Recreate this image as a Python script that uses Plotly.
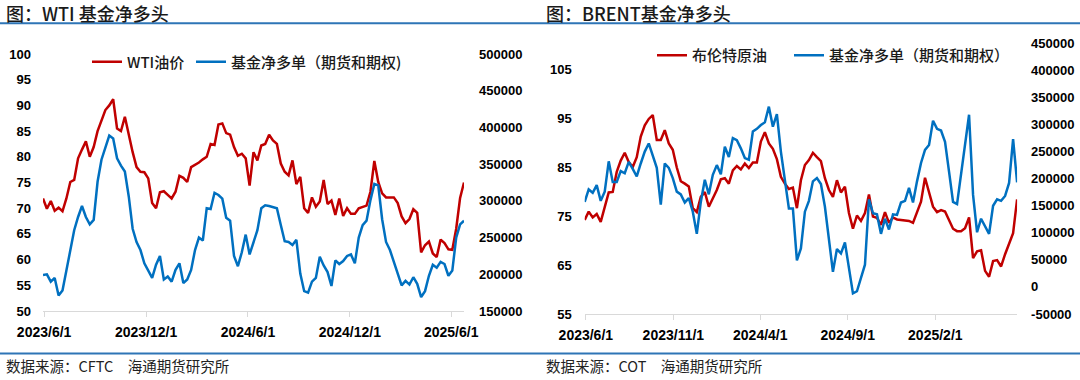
import pandas as pd
import plotly.graph_objects as go

# ---------------- data (weekly, from 2023-05-30) ----------------
start_date = "2023-05-30"

wti_price = [71.9, 69.9, 71.4, 69.5, 70.1, 69.4, 71.9, 75.1, 75.5, 79.7,
             81.4, 83.0, 80.0, 81.9, 85.0, 87.1, 89.1, 90.0, 91.2, 85.5,
             85.0, 87.8, 84.1, 80.9, 78.0, 77.1, 77.0, 75.8, 71.0, 70.0,
             73.1, 73.3, 72.6, 71.9, 73.2, 76.3, 75.9, 75.1, 78.0, 78.4,
             78.9, 79.5, 80.0, 82.5, 82.3, 86.3, 86.5, 84.6, 84.3, 81.9,
             80.2, 80.6, 79.7, 74.4, 80.9, 79.3, 82.2, 82.5, 84.3, 83.2,
             82.5, 78.7, 77.1, 76.4, 79.3, 74.7, 76.1, 70.0, 69.1, 72.1,
             70.3, 71.3, 75.5, 70.8, 71.5, 68.7, 71.9, 68.5, 70.0, 68.9,
             68.9, 70.0, 70.3, 70.5, 73.2, 79.2, 75.1, 72.9, 72.1, 72.1,
             72.1, 71.0, 68.4, 67.1, 67.9, 69.8, 69.1, 61.4, 62.8, 63.5,
             61.2, 60.5, 63.9, 63.2, 62.0, 61.9, 66.0, 72.0, 75.0]

wti_netlong = [199, 200, 190, 195, 171, 178, 205, 235, 260, 278,
               293, 278, 268, 274, 326, 356, 371, 389, 385, 358,
               348, 340, 306, 262, 244, 233, 215, 206, 195, 213,
               225, 193, 197, 190, 206, 215, 188, 193, 206, 233,
               250, 246, 290, 289, 311, 308, 303, 277, 273, 225,
               211, 230, 254, 227, 245, 260, 290, 294, 293, 292,
               290, 267, 245, 244, 240, 247, 201, 177, 175, 190,
               195, 224, 212, 203, 184, 219, 214, 218, 225, 227,
               215, 250, 267, 273, 301, 323, 321, 275, 244, 233,
               218, 200, 185, 191, 186, 196, 187, 169, 177, 198,
               213, 209, 217, 214, 198, 205, 250, 268, 273]  # thousand contracts

brent_price = [74.2, 75.9, 74.7, 75.4, 73.8, 76.9, 79.8, 79.9, 84.0, 86.3,
               87.9, 86.0, 85.0, 87.0, 91.2, 93.5, 94.8, 95.6, 90.5, 90.5,
               92.5, 89.8, 88.5, 84.9, 82.1, 81.6, 81.0, 76.6, 75.8, 78.9,
               79.9, 76.9, 78.6, 80.3, 82.5, 82.7, 81.6, 84.3, 85.2, 84.5,
               85.7, 84.8, 85.9, 85.9, 90.2, 92.1, 89.8, 88.7, 86.6, 83.0,
               81.6, 80.5, 80.8, 76.6, 82.3, 85.4, 86.4, 87.9, 87.0, 86.2,
               82.7, 80.3, 78.9, 82.3, 79.8, 81.0, 75.6, 72.4, 75.1, 74.0,
               75.6, 79.4, 74.9, 74.6, 73.2, 75.8, 73.6, 74.7, 74.3, 74.2,
               74.1, 74.0, 73.6, 75.6, 77.9, 82.8, 79.6, 76.9, 75.8, 76.2,
               75.9, 74.0, 72.4, 71.9, 71.9, 72.5, 74.7, 66.4, 67.8, 68.0,
               63.8, 62.6, 65.8, 66.0, 64.7, 67.2, 69.5, 71.5, 78.4]

brent_netlong = [157, 180, 174, 188, 159, 176, 232, 194, 194, 214,
                 210, 231, 218, 204, 228, 250, 265, 244, 220, 152,
                 228, 220, 201, 176, 171, 156, 164, 139, 98, 157,
                 198, 171, 207, 225, 208, 259, 240, 275, 271, 256,
                 238, 235, 287, 292, 299, 304, 333, 296, 319, 250,
                 196, 145, 145, 49, 71, 139, 159, 195, 201, 190,
                 148, 86, 28, 70, 62, 82, 35, -12, -8, 19,
                 41, 162, 136, 134, 98, 126, 106, 134, 133, 156,
                 159, 183, 156, 195, 229, 253, 262, 307, 292, 289,
                 268, 213, 157, 153, 207, 262, 318, 170, 101, 126,
                 112, 98, 150, 162, 159, 168, 192, 273, 193]  # thousand contracts

wti_xticks = ["2023-06-01", "2023-12-01", "2024-06-01", "2024-12-01", "2025-06-01"]
wti_xlabels = ["2023/6/1", "2023/12/1", "2024/6/1", "2024/12/1", "2025/6/1"]
brent_xticks = ["2023-06-01", "2023-11-01", "2024-04-01", "2024-09-01", "2025-02-01"]
brent_xlabels = ["2023/6/1", "2023/11/1", "2024/4/1", "2024/9/1", "2025/2/1"]

wti_left_ticks = [50, 55, 60, 65, 70, 75, 80, 85, 90, 95, 100]
wti_right_ticks = [150000, 200000, 250000, 300000, 350000, 400000, 450000, 500000]
brent_left_ticks = [55, 65, 75, 85, 95, 105]
brent_right_ticks = [-50000, 0, 50000, 100000, 150000, 200000, 250000,
                     300000, 350000, 400000, 450000]

# ---------------- figure ----------------
weeks = pd.date_range(start_date, periods=len(wti_price), freq="7D")
RED = "#C00000"
BLUE = "#0070C0"
W, H = 1080, 380


def px_x(p):
    return p / W


def px_y(p):
    return 1 - p / H


fig = go.Figure()
fig.add_trace(go.Scatter(x=weeks, y=wti_price, name="WTI油价", mode="lines",
                         line=dict(color=RED, width=2.5), xaxis="x", yaxis="y",
                         legend="legend"))
fig.add_trace(go.Scatter(x=weeks, y=[v * 1000 for v in wti_netlong],
                         name="基金净多单（期货和期权)", mode="lines",
                         line=dict(color=BLUE, width=2.5), xaxis="x", yaxis="y2",
                         legend="legend3"))
fig.add_trace(go.Scatter(x=weeks, y=brent_price, name="布伦特原油", mode="lines",
                         line=dict(color=RED, width=2.5), xaxis="x2", yaxis="y3",
                         legend="legend2"))
fig.add_trace(go.Scatter(x=weeks, y=[v * 1000 for v in brent_netlong],
                         name="基金净多单（期货和期权）", mode="lines",
                         line=dict(color=BLUE, width=2.5), xaxis="x2", yaxis="y4",
                         legend="legend4"))

ytickfont = dict(family="Liberation Sans, Arial, sans-serif", size=13,
                 color="#000000", weight="bold")
xtickfont = dict(family="Liberation Sans, Arial, sans-serif", size=14,
                 color="#000000", weight="bold")
x_end = weeks[-1]
x_start = weeks[0]

xcommon = dict(type="date", range=[x_start, x_end], showgrid=False, zeroline=False,
               showline=True, linecolor="#D9D9D9", linewidth=1,
               ticks="outside", ticklen=5, tickcolor="#D9D9D9", tickwidth=1,
               tickfont=xtickfont, ticklabelstandoff=3, automargin=False)
ycommon = dict(showgrid=False, zeroline=False, showline=False, ticks="",
               tickfont=ytickfont, automargin=False, tickmode="array")

wti_dom_y = [px_y(311), px_y(54)]
brent_dom_y = [px_y(314), px_y(43.3)]

legend_font = dict(family="Noto Sans CJK SC, sans-serif", size=15,
                   color="#1a1a1a", weight=500)


def legend_at(xpx, ypx):
    return dict(orientation="h", x=px_x(xpx), y=px_y(ypx), xanchor="left",
                yanchor="middle", bgcolor="rgba(0,0,0,0)", borderwidth=0,
                font=legend_font)


fig.update_layout(
    width=W, height=H,
    margin=dict(l=0, r=0, t=0, b=0, autoexpand=False),
    paper_bgcolor="white", plot_bgcolor="white",
    font=dict(family="Noto Sans CJK SC, sans-serif", color="#000000"),
    xaxis=dict(domain=[px_x(43), px_x(464)], anchor="y",
               tickvals=wti_xticks, ticktext=wti_xlabels, **xcommon),
    yaxis=dict(domain=wti_dom_y, anchor="x", range=[50, 100],
               tickvals=wti_left_ticks, ticktext=[str(v) for v in wti_left_ticks],
               ticklabelstandoff=11, **ycommon),
    yaxis2=dict(overlaying="y", anchor="x", side="right", range=[150000, 500000],
                tickvals=wti_right_ticks, ticktext=[str(v) for v in wti_right_ticks],
                ticklabelstandoff=14, **ycommon),
    xaxis2=dict(domain=[px_x(584.7), px_x(1017.1)], anchor="y3",
                tickvals=brent_xticks, ticktext=brent_xlabels, **xcommon),
    yaxis3=dict(domain=brent_dom_y, anchor="x2", range=[55, 110.24],
                tickvals=brent_left_ticks, ticktext=[str(v) for v in brent_left_ticks],
                ticklabelstandoff=12, **ycommon),
    yaxis4=dict(overlaying="y3", anchor="x2", side="right", range=[-50000, 450000],
                tickvals=brent_right_ticks, ticktext=[str(v) for v in brent_right_ticks],
                ticklabelstandoff=13, **ycommon),
    legend=legend_at(87, 62),
    legend3=legend_at(191, 62),
    legend2=legend_at(652, 55.5),
    legend4=legend_at(789, 55.5),
    showlegend=True,
)

LINE_BLUE = "#2E75B6"
for yy in (23.3, 353.5):
    fig.add_shape(type="line", xref="paper", yref="paper",
                  x0=0, x1=1, y0=px_y(yy), y1=px_y(yy),
                  line=dict(color=LINE_BLUE, width=2))

title_font = dict(family="Noto Sans CJK SC, sans-serif", size=18, color="#1a1a1a",
                  weight=500)
src_font = dict(family="Noto Sans CJK SC, sans-serif", size=14.5, color="#222222")
fig.add_annotation(text="图：WTI 基金净多头", x=px_x(4), y=px_y(13), xref="paper",
                   yref="paper", xanchor="left", yanchor="middle",
                   showarrow=False, font=title_font)
fig.add_annotation(text="图：BRENT基金净多头", x=px_x(544), y=px_y(13), xref="paper",
                   yref="paper", xanchor="left", yanchor="middle",
                   showarrow=False, font=title_font)
fig.add_annotation(text="数据来源：CFTC　海通期货研究所", x=px_x(4), y=px_y(365),
                   xref="paper", yref="paper", xanchor="left", yanchor="middle",
                   showarrow=False, font=src_font)
fig.add_annotation(text="数据来源：COT　海通期货研究所", x=px_x(544), y=px_y(365),
                   xref="paper", yref="paper", xanchor="left", yanchor="middle",
                   showarrow=False, font=src_font)

fig.write_html("out.html",
               config={"displayModeBar": False},
               post_script="document.body.style.margin='0';"
                           "document.body.style.overflow='hidden';")
